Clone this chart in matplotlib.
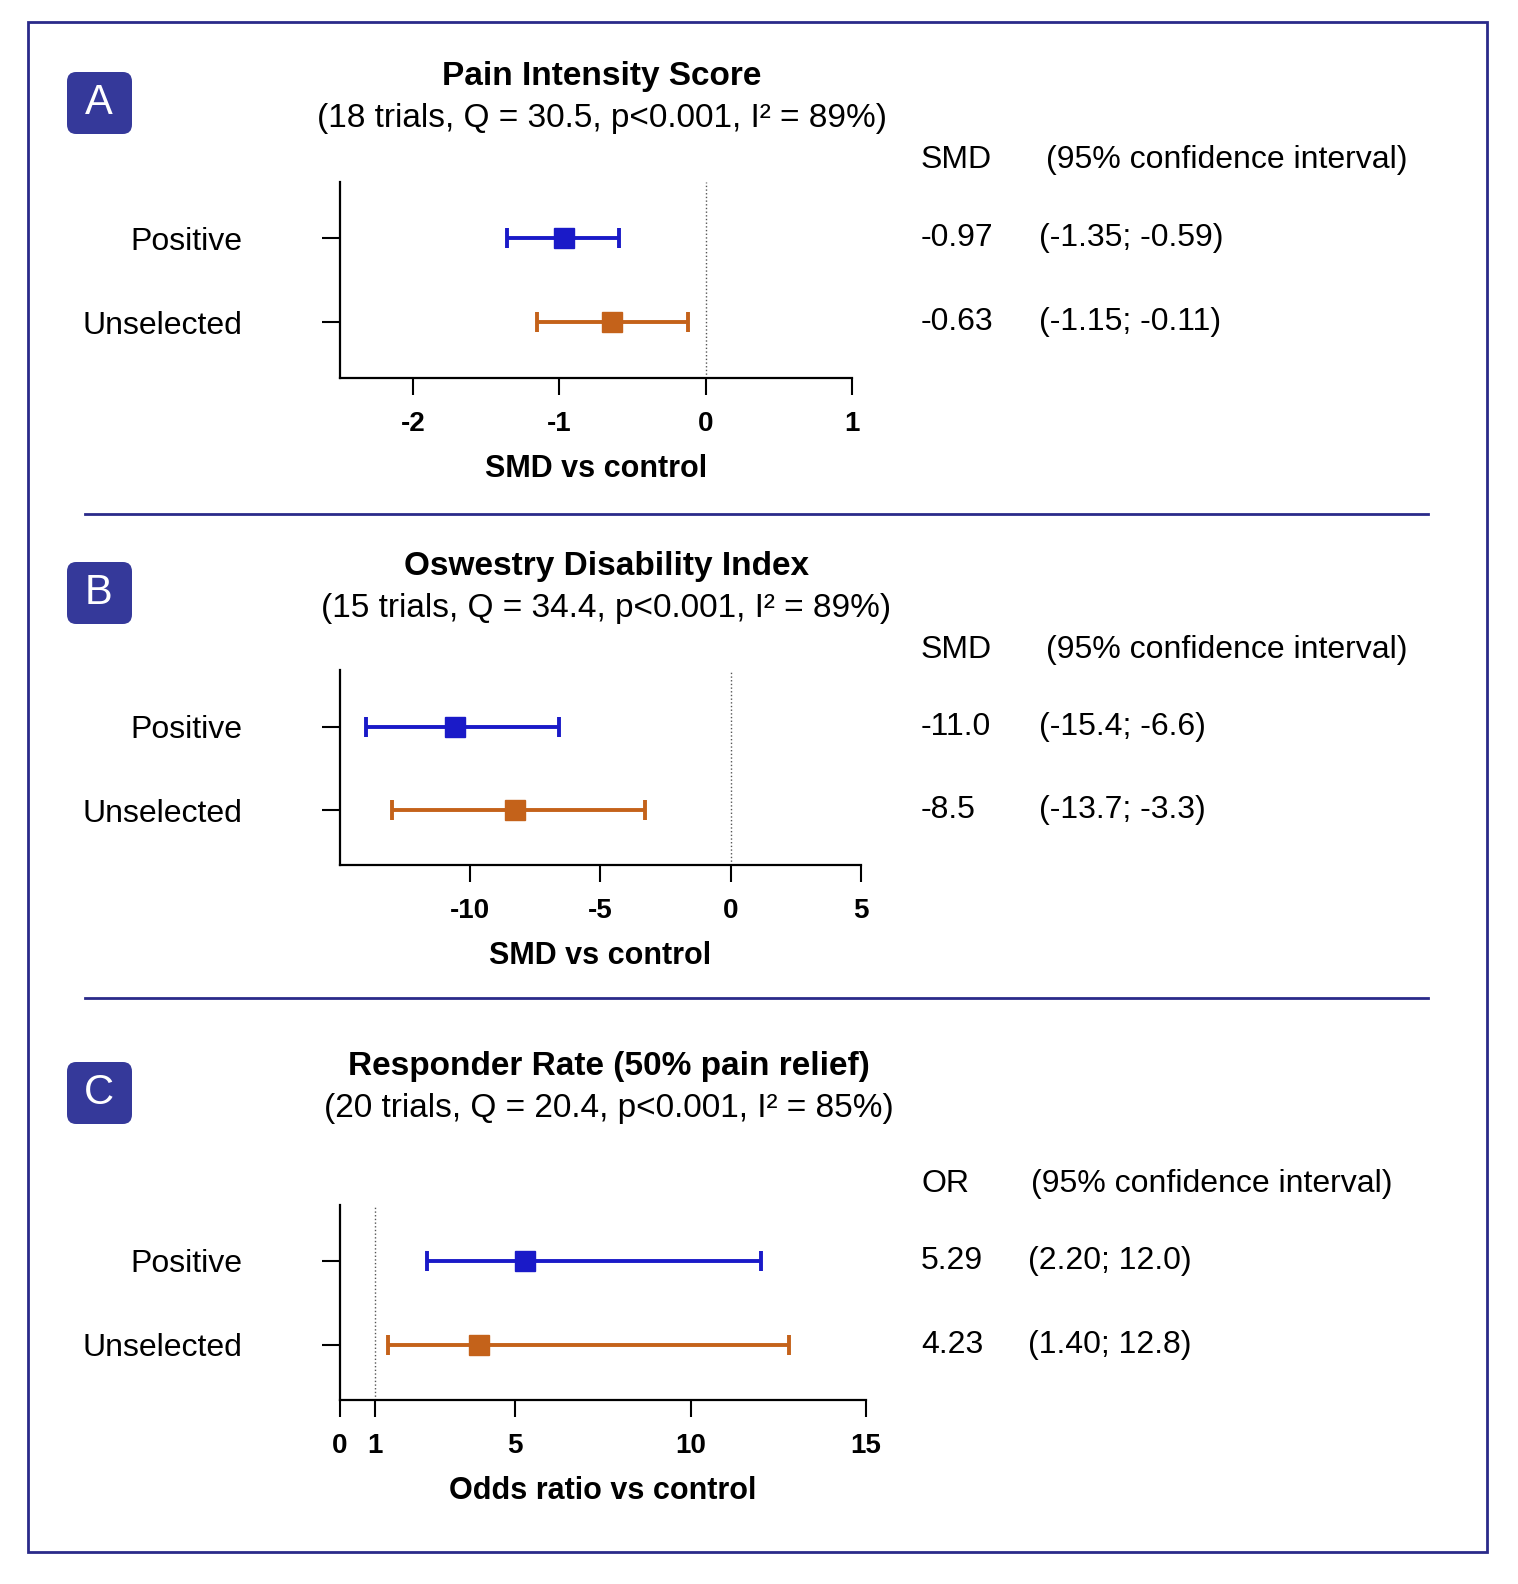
import matplotlib
matplotlib.use("Agg")
import matplotlib.pyplot as plt
from matplotlib.patches import FancyBboxPatch, Rectangle
from matplotlib.lines import Line2D

W, H = 1518, 1584
groups = ["Positive", "Unselected"]
colors = ["#1a1ac8", "#c4621a"]

# plotted estimates (as drawn) per panel: point, lower, upper
a_est = [-0.97, -0.64]; a_lo = [-1.36, -1.15]; a_hi = [-0.59, -0.12]
b_est = [-10.6, -8.3]; b_lo = [-14.0, -13.0]; b_hi = [-6.6, -3.3]
c_est = [5.27, 3.96]; c_lo = [2.48, 1.37]; c_hi = [12.0, 12.8]

a_txt = [("-0.97", "(-1.35; -0.59)"), ("-0.63", "(-1.15; -0.11)")]
b_txt = [("-11.0", "(-15.4; -6.6)"), ("-8.5", "(-13.7; -3.3)")]
c_txt = [("5.29", "(2.20; 12.0)"), ("4.23", "(1.40; 12.8)")]

fig = plt.figure(figsize=(W / 100, H / 100), dpi=100)
plt.rcParams['font.family'] = ['Liberation Sans', 'DejaVu Sans']


def fx(x):
    return x / W


def fy(y):
    return 1 - y / H


def panel(letter, title, sub, box, top_y, est, lo, hi, xlim, ticks, ticklabels,
          xlabel, ref, rows_y, hdr, hdr_x, txt, num_x, ci_x):
    x0, y0, x1, y1 = box
    ax = fig.add_axes([fx(x0), fy(y1), fx(x1 - x0), (y1 - y0) / H])
    ypos = [(rows_y[0] - y0), (rows_y[1] - y0)]
    for i in range(2):
        ax.errorbar(est[i], ypos[i], xerr=[[est[i] - lo[i]], [hi[i] - est[i]]],
                    fmt='s', color=colors[i], ms=14, capsize=7, elinewidth=2.8, capthick=2.8)
    ax.axvline(ref, color='#555555', ls=':', lw=1)
    ax.set_xlim(*xlim)
    ax.set_ylim(y1 - y0, 0)
    ax.set_yticks(ypos)
    ax.set_yticklabels(groups, fontsize=23)
    ax.tick_params(axis='y', length=13, width=1.5, pad=57)
    ax.set_xticks(ticks)
    ax.set_xticklabels(ticklabels, fontsize=20, fontweight='bold')
    ax.tick_params(axis='x', length=12, width=1.5, pad=12)
    ax.set_xlabel(xlabel, fontsize=22, fontweight='bold', labelpad=12)
    for s in ['top', 'right']:
        ax.spines[s].set_visible(False)
    for s in ['left', 'bottom']:
        ax.spines[s].set_linewidth(1.6)
    # badge
    fig.patches.append(FancyBboxPatch((fx(67), fy(top_y + 62)), fx(65), 62 / H,
                                      boxstyle="round,pad=0,rounding_size=0.006",
                                      transform=fig.transFigure, fc='#35399a', ec='none'))
    fig.text(fx(99), fy(top_y + 31), letter, color='white', fontsize=30, ha='center', va='center')
    cx = (x0 + x1) / 2 + 6
    fig.text(fx(cx), fy(top_y + 5), title, fontsize=24, fontweight='bold', ha='center', va='center')
    fig.text(fx(cx), fy(top_y + 46), sub, fontsize=24, ha='center', va='center')
    fig.text(fx(921), fy(hdr), hdr_x[0], fontsize=23, va='center')
    fig.text(fx(hdr_x[1]), fy(hdr), "(95% confidence interval)", fontsize=23, va='center')
    for i in range(2):
        fig.text(fx(num_x), fy(rows_y[i]), txt[i][0], fontsize=23, va='center')
        fig.text(fx(ci_x), fy(rows_y[i]), txt[i][1], fontsize=23, va='center')


panel("A", "Pain Intensity Score", "(18 trials, Q = 30.5, p<0.001, I² = 89%)",
      (340, 182, 852, 378), 72, a_est, a_lo, a_hi, (-2.5, 1), [-2, -1, 0, 1],
      ["-2", "-1", "0", "1"], "SMD vs control", 0, (238, 322), 160,
      ("SMD", 1046), a_txt, 921, 1039)
panel("B", "Oswestry Disability Index", "(15 trials, Q = 34.4, p<0.001, I² = 89%)",
      (340, 670, 861, 865), 562, b_est, b_lo, b_hi, (-15, 5), [-10, -5, 0, 5],
      ["-10", "-5", "0", "5"], "SMD vs control", 0, (727, 810), 650,
      ("SMD", 1046), b_txt, 921, 1039)
panel("C", "Responder Rate (50% pain relief)", "(20 trials, Q = 20.4, p<0.001, I² = 85%)",
      (340, 1205, 866, 1400), 1062, c_est, c_lo, c_hi, (0, 15), [0, 1, 5, 10, 15],
      ["0", "1", "5", "10", "15"], "Odds ratio vs control", 1, (1261, 1345), 1184,
      ("OR", 1031), c_txt, 921, 1028)

fig.patches.append(Rectangle((fx(28), fy(1552)), fx(1459), 1530 / H, transform=fig.transFigure,
                             fill=False, ec='#2a2a8a', lw=2))
for y in (514, 998):
    fig.lines.append(Line2D([fx(85), fx(1428)], [fy(y), fy(y)], transform=fig.transFigure,
                            color='#2a2a8a', lw=2))

fig.savefig("out.png", dpi=100)
